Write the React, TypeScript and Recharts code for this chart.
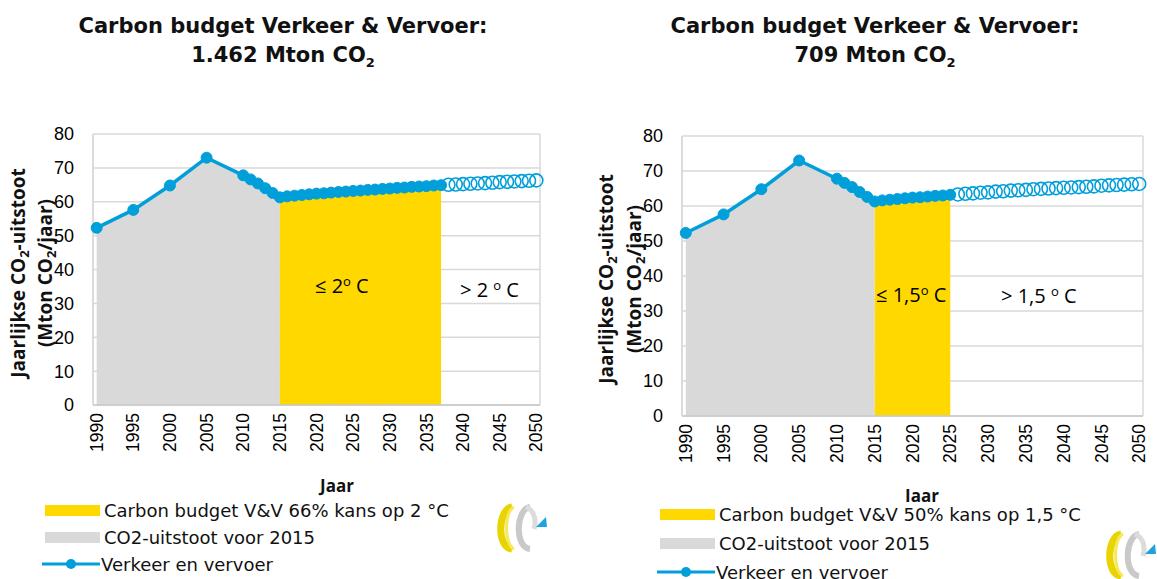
import React from 'react'
import { ComposedChart, Area, Line, XAxis, YAxis, CartesianGrid } from 'recharts'

// years with data (5-yearly up to 2010, then annual)
const years = [
  1990, 1995, 2000, 2005, 2010, 2011, 2012, 2013, 2014, 2015,
  2016, 2017, 2018, 2019, 2020, 2021, 2022, 2023, 2024, 2025,
  2026, 2027, 2028, 2029, 2030, 2031, 2032, 2033, 2034, 2035,
  2036, 2037, 2038, 2039, 2040, 2041, 2042, 2043, 2044, 2045,
  2046, 2047, 2048, 2049, 2050,
]
// Verkeer en vervoer, Mton CO2 per jaar
const emissions = [
  52.3, 57.6, 64.8, 73.0, 67.8, 66.6, 65.4, 64.0, 62.6, 61.3,
  61.6, 61.8, 62.0, 62.2, 62.4, 62.5, 62.7, 62.9, 63.0, 63.2,
  63.3, 63.5, 63.6, 63.8, 63.9, 64.1, 64.2, 64.4, 64.5, 64.6,
  64.8, 64.9, 65.0, 65.1, 65.2, 65.3, 65.4, 65.5, 65.6, 65.8,
  65.9, 66.0, 66.1, 66.2, 66.3,
]
const historyEnd = 2015
const yTicks = [0, 10, 20, 30, 40, 50, 60, 70, 80]
const yearTicks = [1990, 1995, 2000, 2005, 2010, 2015, 2020, 2025, 2030, 2035, 2040, 2045, 2050]
// excel style gridlines sit between categories
const gridYears = [1989.5, 1994.5, 1999.5, 2004.5, 2009.5, 2014.5, 2019.5, 2024.5, 2029.5, 2034.5, 2039.5, 2044.5, 2049.5, 2050.5]

const BLUE = '#009fda'
const YELLOW = '#ffd800'
const GREY = '#d9d9d9'
const TICK_FONT = 'Liberation Sans, Arial, sans-serif'
const LABEL_FONT = 'Open Sans, sans-serif'
const TITLE_FONT = 'DejaVu Sans, Verdana, sans-serif'

function buildRows(budgetEnd: number) {
  return years.map((year, i) => {
    const v = emissions[i]
    return {
      year,
      grey: year <= historyEnd ? v : undefined,
      yellow: year >= historyEnd && year <= budgetEnd ? v : undefined,
      solid: year <= budgetEnd ? v : undefined,
      hollow: year > budgetEnd ? v : undefined,
    }
  })
}

const YearTick = (props: any) => {
  const { x, y, payload } = props
  return (
    <text
      x={x}
      y={y}
      transform={`rotate(-90, ${x}, ${y})`}
      textAnchor="end"
      dy="0.35em"
      fontSize={17.5}
      fontFamily={TICK_FONT}
      fill="#000"
    >
      {payload.value}
    </text>
  )
}

type PanelProps = {
  left: number
  width: number
  height: number
  margin: { top: number; left: number; right: number; bottom: number }
  budgetEnd: number
}

function Panel({ left, width, height, margin, budgetEnd }: PanelProps) {
  const rows = buildRows(budgetEnd)
  return (
    <div style={{ position: 'absolute', left, top: 0 }}>
      <ComposedChart width={width} height={height} data={rows} margin={margin}>
        <XAxis
          xAxisId="grid"
          dataKey="year"
          type="number"
          domain={[1989.5, 2050.5]}
          ticks={gridYears}
          interval={0}
          tick={false}
          tickLine={false}
          axisLine={false}
          height={0}
        />
        <XAxis
          xAxisId="main"
          dataKey="year"
          type="number"
          domain={[1989.5, 2050.5]}
          ticks={yearTicks}
          interval={0}
          tick={<YearTick />}
          tickLine={false}
          tickSize={0}
          tickMargin={8}
          axisLine={{ stroke: '#c8c8c8', strokeWidth: 1.5 }}
          height={50}
        />
        <YAxis
          domain={[0, 80]}
          ticks={yTicks}
          interval={0}
          width={60}
          tickLine={false}
          tickSize={0}
          tickMargin={19}
          axisLine={{ stroke: GREY, strokeWidth: 1.5 }}
          tick={{ fontSize: 18, fill: '#000', fontFamily: TICK_FONT }}
        />
        <CartesianGrid xAxisId="grid" stroke={GREY} strokeWidth={1.5} />
        <Area
          xAxisId="main"
          dataKey="grey"
          type="linear"
          stroke="none"
          fill={GREY}
          fillOpacity={1}
          isAnimationActive={false}
        />
        <Area
          xAxisId="main"
          dataKey="yellow"
          type="linear"
          stroke="none"
          fill={YELLOW}
          fillOpacity={1}
          isAnimationActive={false}
        />
        <Line
          xAxisId="main"
          dataKey="hollow"
          type="linear"
          stroke="none"
          dot={{ r: 6.5, fill: 'none', stroke: BLUE, strokeWidth: 1.6 }}
          isAnimationActive={false}
        />
        <Line
          xAxisId="main"
          dataKey="solid"
          type="linear"
          stroke={BLUE}
          strokeWidth={3.5}
          dot={{ r: 5.5, fill: BLUE, stroke: BLUE, strokeWidth: 1 }}
          isAnimationActive={false}
        />
      </ComposedChart>
    </div>
  )
}

const abs = (style: React.CSSProperties): React.CSSProperties => ({ position: 'absolute', ...style })

function Title({ cx, line1, line2 }: { cx: number; line1: string; line2: string }) {
  return (
    <div
      style={abs({
        left: cx - 260,
        top: 12,
        width: 520,
        textAlign: 'center',
        fontFamily: TITLE_FONT,
        fontWeight: 'bold',
        fontSize: 21,
        lineHeight: '29px',
        color: '#111',
      })}
    >
      <div>{line1}</div>
      <div>
        {line2} CO<sub style={{ fontSize: 13, verticalAlign: -5 }}>2</sub>
      </div>
    </div>
  )
}

function YLabel({ cx1, cx2, cy }: { cx1: number; cx2: number; cy: number }) {
  const base: React.CSSProperties = {
    position: 'absolute',
    width: 300,
    textAlign: 'center',
    fontFamily: LABEL_FONT,
    fontWeight: 'bold',
    fontSize: 19,
    lineHeight: '22px',
    color: '#111',
    transform: 'rotate(-90deg)',
    whiteSpace: 'nowrap',
  }
  const sub = <sub style={{ fontSize: 13, verticalAlign: -4 }}>2</sub>
  return (
    <>
      <div style={{ ...base, left: cx1 - 150, top: cy - 11 }}>Jaarlijkse CO{sub}-uitstoot</div>
      <div style={{ ...base, left: cx2 - 150, top: cy - 11 }}>(Mton CO{sub}/jaar)</div>
    </>
  )
}

function Note({ x, y, children }: { x: number; y: number; children: React.ReactNode }) {
  return (
    <div style={abs({ left: x, top: y, fontFamily: LABEL_FONT, fontSize: 20, lineHeight: '22px', color: '#000', whiteSpace: 'nowrap' })}>
      {children}
    </div>
  )
}

const deg = <sup style={{ fontSize: 13, verticalAlign: 7 }}>o</sup>

function LegendBox({ left, top, rowGap, budgetText }: { left: number; top: number; rowGap: number; budgetText: string }) {
  const row = (i: number): React.CSSProperties => ({
    position: 'absolute',
    left: 0,
    top: i * rowGap,
    height: 24,
    display: 'flex',
    alignItems: 'center',
    whiteSpace: 'nowrap',
  })
  const label: React.CSSProperties = { fontFamily: TITLE_FONT, fontSize: 18, color: '#111', marginLeft: 4 }
  return (
    <div style={abs({ left, top, width: 440, height: rowGap * 3, background: '#fff' })}>
      <div style={row(0)}>
        <div style={{ width: 55, height: 11, background: YELLOW }} />
        <span style={label}>{budgetText}</span>
      </div>
      <div style={row(1)}>
        <div style={{ width: 55, height: 11, background: GREY }} />
        <span style={label}>CO2-uitstoot voor 2015</span>
      </div>
      <div style={row(2)}>
        <svg width={58} height={14} style={{ marginLeft: -3 }}>
          <line x1={0} y1={7} x2={58} y2={7} stroke={BLUE} strokeWidth={3} />
          <circle cx={29} cy={7} r={5} fill={BLUE} />
        </svg>
        <span style={{ ...label, marginLeft: 1 }}>Verkeer en vervoer</span>
      </div>
    </div>
  )
}

function Logo({ left, top }: { left: number; top: number }) {
  return (
    <svg style={abs({ left, top })} width={60} height={50} viewBox="0 0 60 50">
      <path d="M22 4 C8 6 6 44 22 46" fill="none" stroke="#e8d400" strokeWidth={7} />
      <path d="M24 4 C14 8 14 42 24 46" fill="none" stroke="#f6e85a" strokeWidth={3} />
      <path d="M40 4 C26 6 24 44 40 46" fill="none" stroke="#c9c9c9" strokeWidth={6} />
      <path d="M36 4 C46 8 46 20 44 26" fill="none" stroke="#dcdcdc" strokeWidth={5} />
      <polygon points="46,24 56,14 57,24" fill="#1fa3e0" />
    </svg>
  )
}

export default function App() {
  return (
    <div style={abs({ left: 0, top: 0, width: 1157, height: 579, background: '#fff', overflow: 'hidden' })}>
      <Title cx={283} line1="Carbon budget Verkeer & Vervoer:" line2="1.462 Mton" />
      <Title cx={875} line1="Carbon budget Verkeer & Vervoer:" line2="709 Mton" />

      <Panel
        left={0}
        width={580}
        height={455}
        margin={{ top: 134, left: 33, right: 40, bottom: 0 }}
        budgetEnd={2037}
      />
      <Panel
        left={600}
        width={557}
        height={466}
        margin={{ top: 136, left: 22, right: 14, bottom: 0 }}
        budgetEnd={2025}
      />

      <YLabel cx1={21} cx2={48} cy={270} />
      <YLabel cx1={609} cx2={637} cy={276} />

      <Note x={315} y={270}>≤ 2{deg} C</Note>
      <Note x={460} y={274}>&gt; 2 {deg} C</Note>
      <Note x={876} y={279}>≤ 1,5{deg} C</Note>
      <Note x={1001} y={280}>&gt; 1,5 {deg} C</Note>

      <div style={abs({ left: 310, top: 474, width: 54, textAlign: 'center', fontFamily: LABEL_FONT, fontWeight: 'bold', fontSize: 17, color: '#111' })}>Jaar</div>
      <div style={abs({ left: 895, top: 484, width: 54, textAlign: 'center', fontFamily: LABEL_FONT, fontWeight: 'bold', fontSize: 17, color: '#111' })}>Jaar</div>

      <LegendBox left={45} top={498} rowGap={27} budgetText="Carbon budget V&V 66% kans op 2 °C" />
      <LegendBox left={660} top={502} rowGap={29} budgetText="Carbon budget V&V 50% kans op 1,5 °C" />

      <Logo left={490} top={503} />
      <Logo left={1099} top={530} />
    </div>
  )
}
